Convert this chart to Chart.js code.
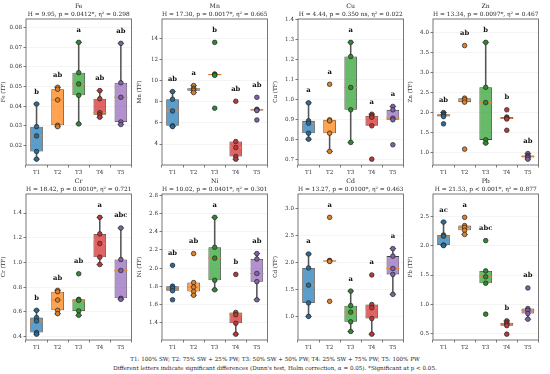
<!DOCTYPE html>
<html>
<head>
<meta charset="utf-8">
<script src="https://cdn.jsdelivr.net/npm/chart.js@4.4.1/dist/chart.umd.min.js"></script>
<style>
  body { margin: 0; background: #fff; width: 550px; height: 374px; position: relative; overflow: hidden; font-family: "DejaVu Serif", serif; }
  .panel { position: absolute; }
  .foot { position: absolute; left: 0; width: 550px; text-align: center; font-size: 5.6px; color: #222; white-space: nowrap; }
</style>
</head>
<body>
<div id="panels"></div>
<div class="foot" style="top:356px">T1: 100% SW; T2: 75% SW + 25% PW; T3: 50% SW + 50% PW; T4: 25% SW + 75% PW; T5: 100% PW</div>
<div class="foot" style="top:365px">Different letters indicate significant differences (Dunn's test, Holm correction, α = 0.05). *Significant at p &lt; 0.05.</div>
<script>
// treatments and elements
const groups = ['T1', 'T2', 'T3', 'T4', 'T5'];
const elements = ['Fe', 'Mn', 'Cu', 'Zn', 'Cr', 'Ni', 'Cd', 'Pb'];
const statLines = [
  'H = 9.95, p = 0.0412*, η² = 0.298',
  'H = 17.30, p = 0.0017*, η² = 0.665',
  'H = 4.44, p = 0.350 ns, η² = 0.022',
  'H = 13.34, p = 0.0097*, η² = 0.467',
  'H = 18.42, p = 0.0010*, η² = 0.721',
  'H = 10.02, p = 0.0401*, η² = 0.301',
  'H = 13.27, p = 0.0100*, η² = 0.463',
  'H = 21.53, p < 0.001*, η² = 0.877'
];

// TF values, five replicates per treatment
const fe = [
  [0.0411, 0.0296, 0.0249, 0.0170, 0.0131],
  [0.0496, 0.0486, 0.0432, 0.0303, 0.0296],
  [0.0724, 0.0570, 0.0513, 0.0455, 0.0310],
  [0.0479, 0.0438, 0.0367, 0.0356, 0.0344],
  [0.0719, 0.0519, 0.0445, 0.0320, 0.0307]
];
const mn = [
  [8.96, 8.24, 7.13, 5.72, 5.65],
  [9.53, 9.28, 9.18, 9.05, 8.87],
  [13.62, 10.63, 10.57, 10.50, 7.39],
  [8.05, 4.24, 3.67, 2.82, 2.57],
  [8.42, 7.29, 7.23, 7.17, 6.28]
];
const cu = [
  [0.985, 0.895, 0.883, 0.833, 0.803],
  [1.078, 0.900, 0.895, 0.833, 0.742],
  [1.288, 1.217, 1.062, 0.950, 0.787],
  [0.928, 0.920, 0.913, 0.870, 0.703],
  [0.967, 0.950, 0.908, 0.900, 0.775]
];
const zn = [
  [2.00, 1.96, 1.94, 1.90, 1.72],
  [3.67, 2.36, 2.32, 2.26, 1.09],
  [3.75, 2.63, 2.25, 1.32, 1.24],
  [2.07, 1.89, 1.86, 1.84, 1.56],
  [0.98, 0.93, 0.91, 0.88, 0.84]
];
const cr = [
  [0.612, 0.553, 0.526, 0.432, 0.419],
  [0.774, 0.763, 0.696, 0.612, 0.585],
  [0.908, 0.701, 0.693, 0.607, 0.572],
  [1.365, 1.231, 1.153, 1.042, 0.983],
  [1.279, 1.024, 0.935, 0.709, 0.701]
];
const ni = [
  [2.03, 1.80, 1.78, 1.75, 1.65],
  [2.16, 1.84, 1.79, 1.74, 1.70],
  [2.56, 2.23, 2.11, 1.865, 1.76],
  [1.93, 1.51, 1.485, 1.39, 1.27],
  [2.16, 2.10, 1.94, 1.85, 1.65]
];
const cd = [
  [2.16, 1.90, 1.58, 1.25, 1.00],
  [2.84, 2.04, 2.03, 2.02, 1.28],
  [1.47, 1.20, 1.08, 0.90, 0.72],
  [1.77, 1.22, 1.16, 0.96, 0.67],
  [2.26, 2.12, 1.89, 1.78, 1.41]
];
const pb = [
  [2.40, 2.18, 2.16, 2.01, 2.00],
  [2.48, 2.34, 2.31, 2.26, 2.19],
  [2.085, 1.57, 1.47, 1.36, 0.835],
  [0.72, 0.69, 0.665, 0.64, 0.495],
  [1.28, 0.93, 0.90, 0.845, 0.75]
];
const values = [fe, mn, cu, zn, cr, ni, cd, pb];

// compact letter display (Dunn's test)
const letters = [
  ['b', 'ab', 'a', 'ab', 'ab'],
  ['ab', 'a', 'b', 'ab', 'ab'],
  ['a', 'a', 'a', 'a', 'a'],
  ['ab', 'ab', 'b', 'b', 'ab'],
  ['b', 'ab', 'ab', 'a', 'abc'],
  ['ab', 'ab', 'a', 'b', 'ab'],
  ['a', 'a', 'a', 'a', 'a'],
  ['ac', 'a', 'abc', 'b', 'ab']
];

// y tick step and decimals per element
const tickSteps = [0.01, 2, 0.1, 0.5, 0.2, 0.2, 0.5, 0.5];
const tickDecimals = [2, 0, 1, 1, 1, 1, 1, 1];

const fillColors = ['rgba(31,119,180,0.72)', 'rgba(255,127,14,0.72)', 'rgba(44,160,44,0.72)', 'rgba(214,39,40,0.72)', 'rgba(148,103,189,0.72)'];
const dotColors = ['#2a6b9a', '#d9822b', '#2f8a2f', '#b8393a', '#7f62a6'];

// layout
const colLeft = [26, 162, 298, 433];
const rowTop = [19, 194];
const plotW = 110, plotH = 146, yAxisW = 26, xAxisH = 12, padTop = 19, padRight = 3;
const FONT = '"DejaVu Serif", serif';

// numpy-style linear percentile
function quant(sorted, p) {
  const idx = (sorted.length - 1) * p;
  const lo = Math.floor(idx), hi = Math.ceil(idx);
  return sorted[lo] + (sorted[hi] - sorted[lo]) * (idx - lo);
}

function boxStats(arr) {
  const s = arr.slice().sort((a, b) => a - b);
  const q1 = quant(s, 0.25), med = quant(s, 0.5), q3 = quant(s, 0.75);
  const iqr = q3 - q1;
  const hiVals = s.filter(v => v <= q3 + 1.5 * iqr + 1e-9);
  const loVals = s.filter(v => v >= q1 - 1.5 * iqr - 1e-9);
  return { q1, med, q3, hi: Math.max(...hiVals), lo: Math.min(...loVals), max: s[s.length - 1], min: s[0] };
}

const panelPlugin = {
  id: 'panelDeco',
  afterDraw(chart) {
    const { ctx, chartArea: a } = chart;
    const o = chart.options.plugins.panelDeco;
    ctx.save();
    // frame
    ctx.strokeStyle = '#555';
    ctx.lineWidth = 0.8;
    ctx.strokeRect(a.left, a.top, a.right - a.left, a.bottom - a.top);
    // titles
    const cx = (a.left + a.right) / 2;
    ctx.fillStyle = '#222';
    ctx.textAlign = 'center';
    ctx.textBaseline = 'middle';
    ctx.font = '6.2px ' + FONT;
    ctx.fillText(o.name, cx, a.top - 12.5);
    ctx.font = '5.9px ' + FONT;
    ctx.fillText(o.stat, cx, a.top - 5);
    // significance letters
    ctx.font = 'bold 6.8px ' + FONT;
    ctx.fillStyle = '#111';
    const xs = chart.scales.x, ys = chart.scales.y;
    o.letters.forEach((t, i) => {
      ctx.fillText(t, xs.getPixelForValue(i), ys.getPixelForValue(o.letterY[i]));
    });
    ctx.restore();
  }
};

values.forEach((data, e) => {
  const stats = data.map(boxStats);
  const all = data.flat();
  const dMin = Math.min(...all), dMax = Math.max(...all), r = dMax - dMin;
  const yMin = dMin - 0.05 * r, yMax = dMax + 0.2 * r;
  const letterY = stats.map(s => s.max + 0.105 * r);

  const col = e % 4, row = Math.floor(e / 4);
  const div = document.createElement('div');
  div.className = 'panel';
  div.style.left = (colLeft[col] - yAxisW) + 'px';
  div.style.top = (rowTop[row] - padTop) + 'px';
  const cv = document.createElement('canvas');
  const W = yAxisW + plotW + padRight, H = padTop + plotH + xAxisH;
  cv.width = W; cv.height = H;
  cv.style.width = W + 'px'; cv.style.height = H + 'px';
  div.appendChild(cv);
  document.getElementById('panels').appendChild(div);

  // points use the label string so the category scale maps them to the right treatment
  const points = [];
  const pointColors = [];
  data.forEach((g, i) => g.forEach(v => { points.push({ x: groups[i], y: v }); pointColors.push(dotColors[i]); }));

  const caps = [];
  stats.forEach((s, i) => {
    if (s.hi > s.q3) caps.push({ x: groups[i], y: s.hi });
    if (s.lo < s.q1) caps.push({ x: groups[i], y: s.lo });
  });

  new Chart(cv.getContext('2d'), {
    type: 'bar',
    data: {
      labels: groups,
      datasets: [
        {
          type: 'scatter', order: 0,
          data: points,
          pointRadius: 2.3, pointBackgroundColor: pointColors,
          pointBorderColor: '#222', pointBorderWidth: 0.7
        },
        {
          type: 'scatter', order: 1,
          data: stats.map((s, i) => ({ x: groups[i], y: s.med })),
          pointStyle: 'line', pointRadius: 6.6, pointBorderColor: '#e08a3c', pointBorderWidth: 1
        },
        {
          type: 'scatter', order: 1,
          data: caps,
          pointStyle: 'line', pointRadius: 3.3, pointBorderColor: '#555', pointBorderWidth: 0.9
        },
        {
          type: 'bar', order: 2, grouped: false,
          data: stats.map(s => [s.q1, s.q3]),
          backgroundColor: fillColors, borderColor: '#444', borderWidth: 0.8,
          borderSkipped: false, barPercentage: 0.6, categoryPercentage: 1
        },
        {
          type: 'bar', order: 3, grouped: false,
          data: stats.map(s => s.hi > s.q3 ? [s.q3, s.hi] : null),
          backgroundColor: '#555', borderWidth: 0, barThickness: 0.9
        },
        {
          type: 'bar', order: 3, grouped: false,
          data: stats.map(s => s.lo < s.q1 ? [s.lo, s.q1] : null),
          backgroundColor: '#555', borderWidth: 0, barThickness: 0.9
        }
      ]
    },
    options: {
      responsive: false,
      animation: false,
      devicePixelRatio: 1,
      events: [],
      layout: { padding: { top: padTop, right: padRight, left: 0, bottom: 0 } },
      plugins: {
        legend: { display: false },
        tooltip: { enabled: false },
        panelDeco: { name: elements[e], stat: statLines[e], letters: letters[e], letterY }
      },
      scales: {
        x: {
          type: 'category',
          offset: true,
          afterFit: s => { s.height = xAxisH; },
          grid: { display: true, drawOnChartArea: false, tickLength: 2.5, tickColor: '#444', tickWidth: 0.7 },
          border: { display: false },
          ticks: { color: '#333', font: { family: FONT, size: 5.6 }, padding: 1.5, maxRotation: 0 }
        },
        y: {
          type: 'linear',
          min: yMin, max: yMax,
          afterFit: s => { s.width = yAxisW; },
          grid: { color: '#ececec', lineWidth: 0.6, tickLength: 2.5, tickColor: '#444', tickWidth: 0.7 },
          border: { display: false },
          title: { display: true, text: elements[e] + ' (TF)', color: '#333', font: { family: FONT, size: 5.6 }, padding: 0 },
          ticks: {
            stepSize: tickSteps[e], includeBounds: false,
            color: '#333', font: { family: FONT, size: 5.6 }, padding: 1.5,
            callback: v => Number(v).toFixed(tickDecimals[e])
          }
        }
      }
    },
    plugins: [panelPlugin]
  });
});
</script>
</body>
</html>
